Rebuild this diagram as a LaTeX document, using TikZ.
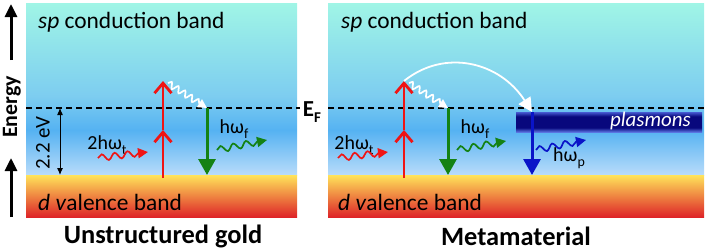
\documentclass[tikz,border=0pt]{standalone}
\usepackage{fontspec}
\setmainfont{Carlito}
\usepackage{tikz}
\usetikzlibrary{arrows.meta,decorations.pathmorphing}

\definecolor{cbBot}{RGB}{185,220,250}
\definecolor{cbMid}{RGB}{85,178,242}
\definecolor{cbUp}{RGB}{125,205,240}
\definecolor{cbTop}{RGB}{160,245,230}
\definecolor{vbTop}{RGB}{255,228,90}
\definecolor{vbMid}{RGB}{255,150,64}
\definecolor{vbBot}{RGB}{222,36,40}
\definecolor{exRed}{RGB}{240,20,20}
\definecolor{emGreen}{RGB}{20,130,20}
\definecolor{plBlue}{RGB}{10,20,200}
\definecolor{plTop}{RGB}{70,90,210}
\definecolor{plMid}{RGB}{8,8,125}
\definecolor{plBot}{RGB}{90,115,225}
\pgfdeclareverticalshading{cband}{100bp}{color(0bp)=(cbBot); color(25bp)=(cbBot); color(38bp)=(cbMid); color(48bp)=(cbUp); color(75bp)=(cbTop); color(100bp)=(cbTop)}
\pgfdeclareverticalshading{pband}{100bp}{color(0bp)=(plBot); color(25bp)=(plBot); color(36bp)=(plMid); color(64bp)=(plMid); color(75bp)=(plTop); color(100bp)=(plTop)}
\newcommand{\lsub}[1]{\raisebox{-0.5ex}{\fontsize{14}{14}\selectfont #1}}

\begin{document}
\begin{tikzpicture}[
  x=1bp, y=-1bp,
  band/.style={anchor=west, inner sep=0pt, font=\fontsize{23.5}{26}\selectfont},
  lbl/.style={inner sep=0pt, font=\fontsize{20}{22}\selectfont},
  ttl/.style={inner sep=0pt, font=\fontsize{26.5}{30}\selectfont\bfseries},
  fermi/.style={dashed, dash pattern=on 6bp off 4bp, line width=2bp},
  exc/.style={exRed, line width=2.8bp, -{Straight Barb[length=10bp,width=17bp]}},
  emit/.style={line width=3bp, -{Triangle[length=16bp,width=17bp]}},
  wav/.style={line width=1.7bp, decorate, decoration={snake, amplitude=3.2bp, segment length=13bp, post length=8bp}, -{Triangle[length=10bp,width=10bp]}},
  relax/.style={white, line width=1.7bp, decorate, decoration={snake, amplitude=3bp, segment length=8bp, post length=6bp}, -{Triangle[length=9bp,width=9bp]}}
]
\useasboundingbox (0,0) rectangle (707,251);
% bands
\shade[shading=cband] (26,3) rectangle (297,175);
\shade[top color=vbTop, middle color=vbMid, bottom color=vbBot] (26,175) rectangle (297,217);
\shade[shading=cband] (328,3) rectangle (704,175);
\shade[top color=vbTop, middle color=vbMid, bottom color=vbBot] (328,175) rectangle (704,217);
\shade[shading=pband] (516,112) rectangle (702,132);

% named points
\coordinate (efL0) at (26,108);
\coordinate (efL1) at (300,108);
\coordinate (efR0) at (328,108);
\coordinate (efR1) at (706,108);
\coordinate (vbL) at (163,178);
\coordinate (midL) at (163,130);
\coordinate (topL) at (163,81);
\coordinate (vbR) at (404,178);
\coordinate (midR) at (404,130);
\coordinate (topR) at (404,81);
\coordinate (fL) at (207,108);
\coordinate (fLb) at (207,175);
\coordinate (fR) at (448,108);
\coordinate (fRb) at (448,175);
\coordinate (pR) at (532,112);
\coordinate (pRb) at (532,175);
\coordinate (gapT) at (60,108);
\coordinate (gapB) at (60,175);
\coordinate (enB) at (11,217);
\coordinate (enM) at (11,158);
\coordinate (enU) at (11,60);
\coordinate (enT) at (11,4);

\draw[fermi] (efL0)--(efL1);
\draw[fermi] (efR0)--(efR1);

% labels
\node[band] (cbL) at (38,22) {\textit{sp} conduction band};
\node[band] (cbR) at (341,22) {\textit{sp} conduction band};
\node[band] (vbLt) at (38,202) {\textit{d v}alence band};
\node[band] (vbRt) at (338,202) {\textit{d v}alence band};
\node[ttl] (titL) at (163,236) {Unstructured gold};
\node[ttl] (titR) at (516,236) {Metamaterial};
\node[inner sep=0pt, font=\fontsize{23}{24}\selectfont\bfseries] (ef) at (312,112) {E\raisebox{-0.5ex}{\fontsize{15}{15}\selectfont F}};
\node[rotate=90, inner sep=0pt, font=\fontsize{22}{24}\selectfont\bfseries] (en) at (12,107) {Energy};
\node[lbl, rotate=90, font=\fontsize{21}{22}\selectfont] (gap) at (43,143) {2.2 eV};
\node[lbl] (twoL) at (107,145) {2hω\lsub{t}};
\node[lbl] (twoR) at (354,145) {2hω\lsub{t}};
\node[lbl] (hfL) at (234,129) {hω\lsub{f}};
\node[lbl] (hfR) at (475,129) {hω\lsub{f}};
\node[lbl] (hp) at (569,158) {hω\lsub{p}};
\node[anchor=east, inner sep=0pt, text=white, font=\fontsize{21}{22}\selectfont\itshape] (pl) at (691,121) {plasmons};

% energy axis and gap
\draw[line width=3bp, -{Triangle[length=13bp,width=12bp]}] (enB)--(enM);
\draw[line width=3bp, -{Triangle[length=13bp,width=12bp]}] (enU)--(enT);
\draw[line width=1bp, {Latex[length=7bp,width=6bp]}-{Latex[length=7bp,width=6bp]}] (gapT)--(gapB);

% unstructured gold
\draw[wav, exRed] (98,158) -- (148,152);
\draw[exc] (vbL)--(midL);
\draw[exc] (midL)--(topL);
\draw[relax] (168,83) -- (fL);
\draw[emit, emGreen] (fL)--(fLb);
\draw[wav, emGreen] (217,150) -- (267,140);

% metamaterial
\draw[wav, exRed] (338,158) -- (388,152);
\draw[exc] (vbR)--(midR);
\draw[exc] (midR)--(topR);
\draw[relax] (409,83) -- (fR);
\draw[emit, emGreen] (fR)--(fRb);
\draw[wav, emGreen] (457,150) -- (506,141);
\draw[white, line width=1.8bp, -{Triangle[length=14bp,width=14bp]}] (topR) .. controls (445,48) and (500,62) .. (pR);
\draw[emit, plBlue] (pR)--(pRb);
\draw[wav, plBlue] (536,150) -- (586,140);
\end{tikzpicture}
\end{document}
